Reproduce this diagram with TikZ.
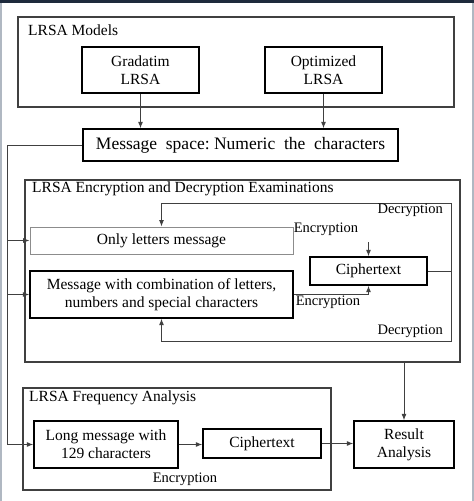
\documentclass[tikz,border=0pt]{standalone}
\usepackage{fontspec}
\setmainfont{Liberation Serif}
\usepackage{tikz}
\usetikzlibrary{calc,arrows.meta}
\definecolor{edgegrey}{RGB}{176,184,194}
\definecolor{topnavy}{RGB}{30,42,60}

\begin{document}
\begin{tikzpicture}[x=1pt,y=-1pt,
    frame/.style={draw=black!75,line width=1.2pt,inner sep=0pt},
    box/.style={draw,line width=1.3pt,align=center,inner sep=0pt,
        font=\fontsize{15.5}{18}\selectfont},
    title/.style={anchor=west,inner sep=0pt,font=\fontsize{15.5}{18}\selectfont},
    lbl/.style={inner sep=0pt,font=\fontsize{14.5}{16}\selectfont},
    link/.style={draw=black!75,line width=1pt},
    tip/.style={-{Latex[length=6.5pt,width=5pt]}}]
    \useasboundingbox (0,0) rectangle (474,501);
    \fill [white] (0,0) rectangle (474,501);
    \draw [line width=2.5pt,edgegrey] (1.2,0) -- (1.2,501);
    \draw [line width=2.5pt,edgegrey] (472.8,0) -- (472.8,501);
    \draw [line width=3pt,topnavy] (0,1.5) -- (474,1.5);

    \node[frame,minimum width=436pt,minimum height=90pt] (Models) at (236,62) {};
    \node[frame,minimum width=435pt,minimum height=182pt] (Exam) at (242.5,271) {};
    \node[frame,minimum width=308pt,minimum height=102pt] (Freq) at (177,439) {};
    \node[title] (ModelsTitle) at (28,30) {LRSA Models};
    \node[title] (ExamTitle) at (32,189) {LRSA Encryption and Decryption Examinations};
    \node[title] (FreqTitle) at (29,398) {LRSA Frequency Analysis};

    \node[box,minimum width=117pt,minimum height=46pt] (grad) at (140.5,70) {Gradatim\\LRSA};
    \node[box,minimum width=117pt,minimum height=46pt] (opt) at (323.5,70) {Optimized\\LRSA};
    \node[box,minimum width=315pt,minimum height=32pt,
        font=\fontsize{17.5}{20}\selectfont] (msg) at (240.5,145)
        {Message\ \ space:\ Numeric\ \ the\ \ characters};

    \node[box,draw=black!45,line width=0.9pt,minimum width=263pt,minimum height=27pt]
        (only) at (161.5,240.5) {Only letters message};
    \node[box,minimum width=263pt,minimum height=47pt] (combo) at (161.5,294.5)
        {Message with combination of letters,\\numbers and special characters};
    \node[box,minimum width=117pt,minimum height=28pt] (ciph) at (368.5,271) {Ciphertext};

    \node[box,minimum width=144pt,minimum height=47pt] (long) at (106,444.5)
        {Long message with\\129 characters};
    \node[box,minimum width=118pt,minimum height=29pt] (ciph2) at (262,443.5) {Ciphertext};
    \node[box,minimum width=100pt,minimum height=47pt] (result) at (404,444.5)
        {Result\\Analysis};

    \coordinate (trunk) at (7,444.5);
    \coordinate (decTop) at (451,203);
    \coordinate (decBot) at (451,341);

    \draw [link,tip] (grad.south) -- (grad.south |- msg.north);
    \draw [link,tip] (opt.south) -- (opt.south |- msg.north);
    \draw [link] (msg.west) -| (trunk);
    \draw [link,tip] (only.west -| trunk) -- (only.west);
    \draw [link,tip] (combo.west -| trunk) -- (combo.west);
    \draw [link,tip] (trunk) -- (long.west);

    \draw [link,tip] (ciph.east) -| (decTop) -| (only.north);
    \draw [link,tip] (ciph.east -| decTop) -- (decBot) -| (combo.south);
    \node[lbl,anchor=east] (decLblTop) at (443,210) {Decryption};
    \node[lbl,anchor=east] (decLblBot) at (443,331) {Decryption};

    \draw [link,tip] ([yshift=14pt]ciph.north) -- (ciph.north);
    \node[lbl] (encLblTop) at (326,229) {Encryption};
    \draw [link,tip] (combo.east) -| (ciph.south);
    \node[lbl] (encLblBot) at (328,302) {Encryption};

    \draw [link,tip] (result.north |- Exam.south) -- (result.north);
    \draw [link,tip] (long.east) -- (long.east -| ciph2.west);
    \draw [link,tip] (ciph2.east) -- (ciph2.east -| result.west);
    \node[lbl] (encLblFreq) at (185,479) {Encryption};
\end{tikzpicture}
\end{document}
